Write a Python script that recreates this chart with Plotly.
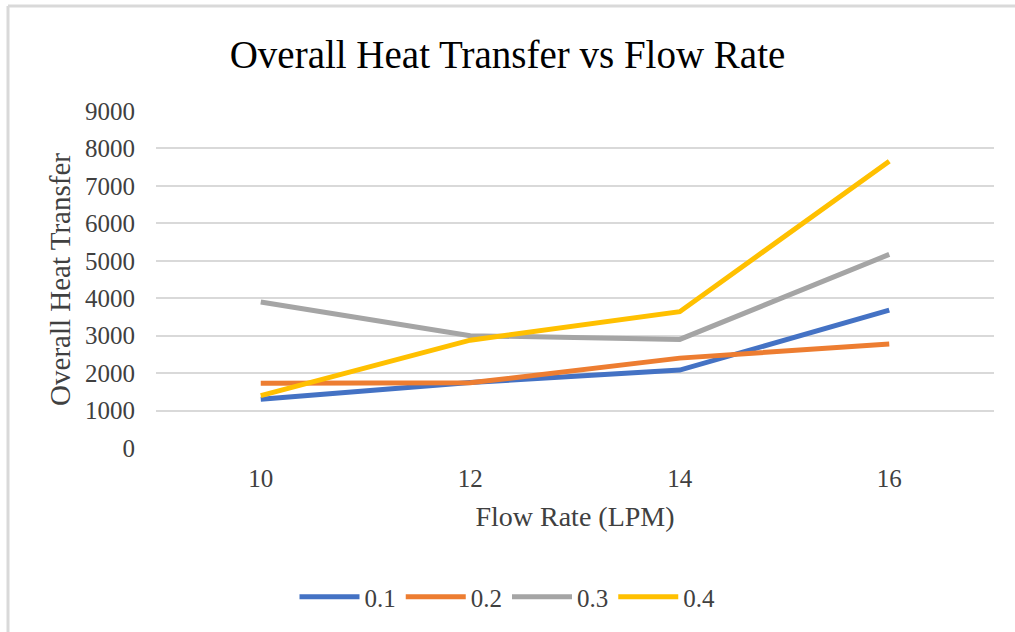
import plotly.graph_objects as go

flow_rate = ["10", "12", "14", "16"]
series_names = ["0.1", "0.2", "0.3", "0.4"]
u_01 = [1300, 1750, 2080, 3680]
u_02 = [1730, 1740, 2400, 2780]
u_03 = [3900, 3000, 2900, 5170]
u_04 = [1400, 2880, 3640, 7660]
colors = ["#4472C4", "#ED7D31", "#A5A5A5", "#FFC000"]
y_ticks = [0, 1000, 2000, 3000, 4000, 5000, 6000, 7000, 8000, 9000]

W, H = 1015, 632
L, R, T, B = 156, 21, 111, 184
pw, ph = W - L - R, H - T - B

def px(x):
    return (x - L) / pw

def py(y):
    return (H - B - y) / ph

fig = go.Figure()
for name, vals, c in zip(series_names, [u_01, u_02, u_03, u_04], colors):
    fig.add_trace(go.Scatter(x=flow_rate, y=vals, name=name, mode="lines",
                             line=dict(color=c, width=5)))

font = "Liberation Serif, Times New Roman, serif"
fig.update_layout(
    width=W, height=H,
    margin=dict(l=L, r=R, t=T, b=B),
    paper_bgcolor="white", plot_bgcolor="white",
    font=dict(family=font, color="#404040", size=25),
    title=dict(text="Overall Heat Transfer vs Flow Rate", x=0.5, xanchor="center",
               xref="container", y=1 - 54 / H, yref="container", yanchor="middle",
               font=dict(family=font, size=39, color="#000000")),
    xaxis=dict(type="category", range=[-0.5, 3.5], showgrid=False, zeroline=False,
               showline=False, ticks="", ticklabelstandoff=13,
               tickfont=dict(size=25, color="#404040"),
               title=dict(text="Flow Rate (LPM)", standoff=15,
                          font=dict(size=28, color="#404040"))),
    yaxis=dict(range=[0, 9000], tickvals=y_ticks, showgrid=True, gridcolor="#D9D9D9",
               gridwidth=2, zeroline=False, showline=False, ticks="",
               ticklabelstandoff=20, tickfont=dict(size=25, color="#404040"),
               title=dict(text="Overall Heat Transfer", standoff=5,
                          font=dict(size=29, color="#404040"))),
    legend=dict(orientation="h", x=0.5, xanchor="center", xref="container",
                y=1 - 597 / H, yref="container", yanchor="middle",
                font=dict(size=25, color="#404040"), itemwidth=60,
                tracegroupgap=0),
    showlegend=True,
)
# chart-area frame (top and left edges visible in the crop)
fig.add_shape(type="line", xref="paper", yref="paper",
              x0=px(8), x1=px(1100), y0=py(6), y1=py(6),
              line=dict(color="#D9D9D9", width=3), layer="below")
fig.add_shape(type="line", xref="paper", yref="paper",
              x0=px(8), x1=px(8), y0=py(6), y1=py(700),
              line=dict(color="#D9D9D9", width=3), layer="below")
fig.write_html("out.html")
